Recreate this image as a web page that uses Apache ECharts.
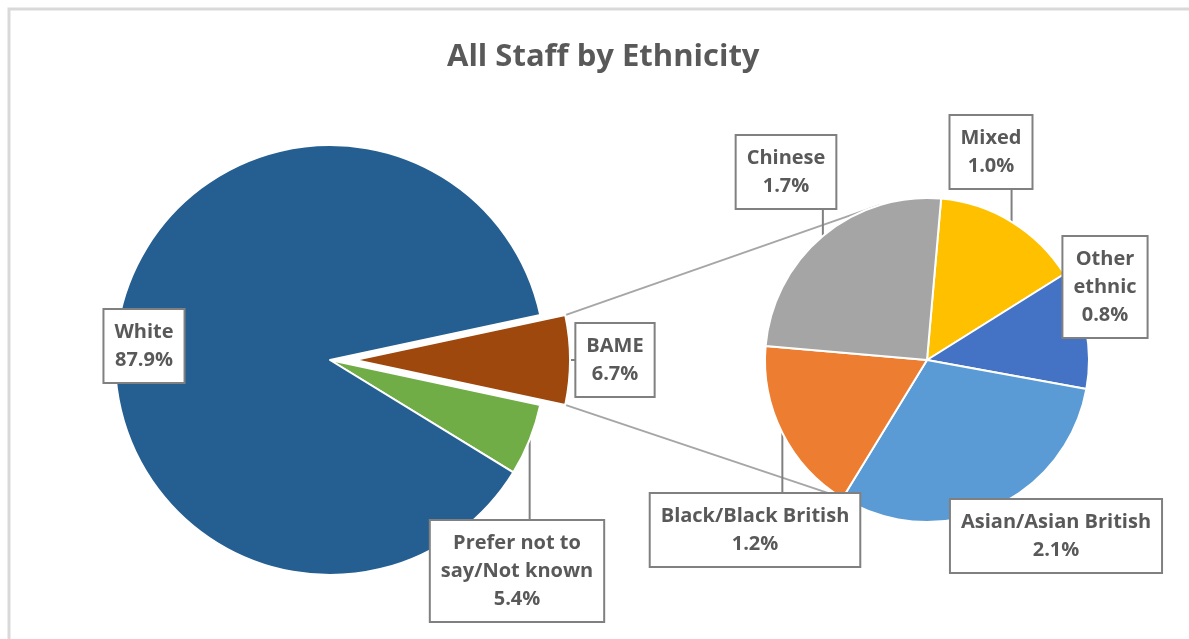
<!DOCTYPE html>
<html>
<head>
<meta charset="utf-8">
<script src="https://cdn.jsdelivr.net/npm/echarts@6/dist/echarts.min.js"></script>
<style>
  html, body { margin: 0; background: #fff; }
  #chart { width: 1189px; height: 639px; }
</style>
</head>
<body>
<div id="chart"></div>
<script>
// main pie (percent of all staff)
const mainNames = ['BAME', 'Prefer not to\nsay/Not known', 'White'];
const mainValues = [6.7, 5.4, 87.9];
// breakdown of BAME (percent of all staff)
const subNames = ['Mixed', 'Other\nethnic', 'Asian/Asian British', 'Black/Black British', 'Chinese'];
const subValues = [1.0, 0.8, 2.1, 1.2, 1.7];

const mainColors = ['#9E480E', '#70AD47', '#255E91'];
const subColors = ['#FFC000', '#4472C4', '#5B9BD5', '#ED7D31', '#A5A5A5'];

// layout (pixels)
const FONT = '"Open Sans", Lato, sans-serif';
const mainCenter = [330, 360];
const mainRadius = 215;
const explode = 25;
const subCenter = [927, 360];
const subRadius = 162;
const mainLabelPos = [[617, 361], [517, 571], [144, 346]];
const subLabelPos = [[991, 152], [1105, 287], [1056, 536], [755, 530], [786, 172]];
const noPointer = ['White', 'Other\nethnic', 'Asian/Asian British'];
// where the connector lines meet the second pie (degrees)
const connectorEnds = [107, -122];

const sum = (arr) => arr.reduce((a, b) => a + b, 0);
const mainStart = (mainValues[0] / sum(mainValues)) * 180;
const subStart = 85;

const labelStyle = {
  show: true,
  position: 'outside',
  formatter: (p) => p.name + '\n' + p.value.toFixed(1) + '%',
  overflow: 'none',
  bleedMargin: -3000,
  color: '#595959',
  fontFamily: FONT,
  fontWeight: 'bold',
  fontSize: 20,
  lineHeight: 28,
  backgroundColor: '#fff',
  borderColor: '#808080',
  borderWidth: 2,
  padding: [8, 10],
  align: 'center',
};

const makeLayout = (positions) => (params) => {
  const p = positions[params.dataIndex];
  const w = params.labelRect.width;
  const h = params.labelRect.height;
  const rx = p[0] - w / 2;
  const ry = p[1] - h / 2;
  const out = { x: p[0], y: p[1], align: 'center', verticalAlign: 'middle' };
  const pts = params.labelLinePoints;
  if (pts && pts.length) {
    const s = pts[0];
    const ex = Math.min(Math.max(s[0], rx), rx + w);
    const ey = Math.min(Math.max(s[1], ry), ry + h);
    out.labelLinePoints = [s, [(s[0] + ex) / 2, (s[1] + ey) / 2], [ex, ey]];
  }
  return out;
};

const buildItems = (names, values, colors) =>
  names.map((name, i) => ({
    name,
    value: values[i],
    itemStyle: { color: colors[i] },
    labelLine: { show: !noPointer.includes(name) },
  }));

const mainItems = buildItems(mainNames, mainValues, mainColors);
mainItems[0].selected = true;

// connector lines from the exploded slice to the second pie
const rad = Math.PI / 180;
const cornerA = [mainCenter[0] + explode + mainRadius * Math.cos(mainStart * rad), mainCenter[1] - mainRadius * Math.sin(mainStart * rad)];
const cornerB = [mainCenter[0] + explode + mainRadius * Math.cos(-mainStart * rad), mainCenter[1] - mainRadius * Math.sin(-mainStart * rad)];
const endPts = connectorEnds.map((a) => [subCenter[0] + subRadius * Math.cos(a * rad), subCenter[1] - subRadius * Math.sin(a * rad)]);

const chart = echarts.init(document.getElementById('chart'));
chart.setOption({
  backgroundColor: '#fff',
  animation: false,
  title: {
    text: 'All Staff by Ethnicity',
    left: 442,
    top: 37,
    padding: 5,
    textStyle: { color: '#595959', fontFamily: FONT, fontWeight: 'bold', fontSize: 31 },
  },
  graphic: [
    {
      type: 'rect',
      z: 0,
      shape: { x: 9, y: 9, width: 1200, height: 700 },
      style: { fill: 'none', stroke: '#d9d9d9', lineWidth: 3 },
    },
    {
      type: 'line',
      z: 1,
      shape: { x1: cornerA[0], y1: cornerA[1], x2: endPts[0][0], y2: endPts[0][1] },
      style: { stroke: '#a6a6a6', lineWidth: 2 },
    },
    {
      type: 'line',
      z: 1,
      shape: { x1: cornerB[0], y1: cornerB[1], x2: endPts[1][0], y2: endPts[1][1] },
      style: { stroke: '#a6a6a6', lineWidth: 2 },
    },
  ],
  series: [
    {
      name: 'All staff',
      type: 'pie',
      center: mainCenter,
      radius: mainRadius,
      startAngle: mainStart,
      clockwise: true,
      selectedMode: 'single',
      selectedOffset: explode,
      itemStyle: { borderColor: '#fff', borderWidth: 2 },
      label: labelStyle,
      labelLine: { lineStyle: { color: '#808080', width: 2 } },
      labelLayout: makeLayout(mainLabelPos),
      emphasis: { disabled: true },
      data: mainItems,
    },
    {
      name: 'BAME',
      type: 'pie',
      center: subCenter,
      radius: subRadius,
      startAngle: subStart,
      clockwise: true,
      itemStyle: { borderColor: '#fff', borderWidth: 2 },
      label: labelStyle,
      labelLine: { lineStyle: { color: '#808080', width: 2 } },
      labelLayout: makeLayout(subLabelPos),
      emphasis: { disabled: true },
      data: buildItems(subNames, subValues, subColors),
    },
  ],
});

window.addEventListener('resize', () => chart.resize());
</script>
</body>
</html>
